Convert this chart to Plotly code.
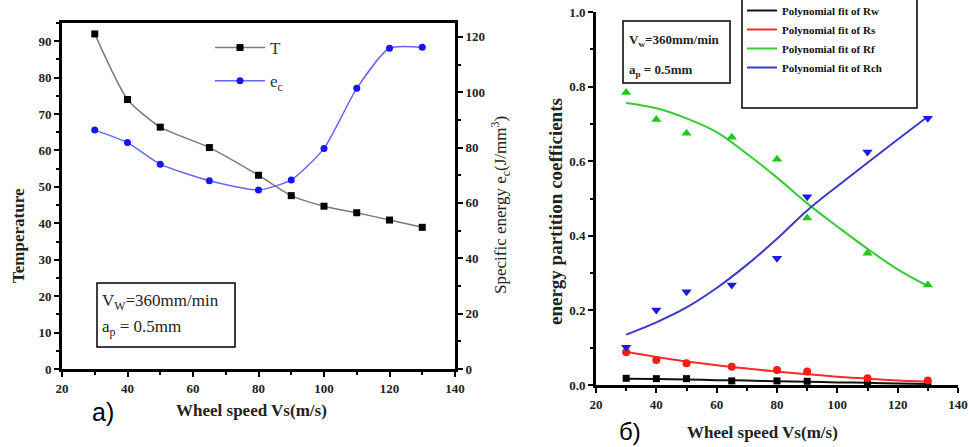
import plotly.graph_objects as go

W, H = 970, 447


def px(x):
    return x / W


def py(y):
    return 1 - y / H


# ---------------- data: panel a) ----------------
speed_a = [30, 40, 50, 65, 80, 90, 100, 110, 120, 130]
temperature = [92.0, 74.0, 66.4, 60.8, 53.2, 47.6, 44.7, 42.9, 40.9, 38.9]
specific_energy = [86.3, 81.8, 74.0, 68.0, 64.7, 68.3, 79.7, 101.4, 115.9, 116.2]

# ---------------- data: panel б) ----------------
speed_b = [30, 40, 50, 65, 80, 90, 110, 130]
rw = [0.018, 0.017, 0.017, 0.011, 0.011, 0.010, 0.005, 0.003]
rs = [0.088, 0.067, 0.058, 0.049, 0.040, 0.036, 0.018, 0.012]
rf = [0.784, 0.712, 0.675, 0.664, 0.605, 0.448, 0.353, 0.268]
rch = [0.101, 0.201, 0.250, 0.268, 0.340, 0.505, 0.625, 0.715]

fit_speed = [30, 40, 50, 60, 70, 80, 90, 100, 110, 120, 130]
rw_fit = [0.017, 0.016, 0.015, 0.013, 0.012, 0.010, 0.009, 0.007, 0.006, 0.004, 0.003]
rs_fit = [0.089, 0.075, 0.063, 0.053, 0.044, 0.036, 0.029, 0.022, 0.017, 0.012, 0.009]
rf_fit = [0.756, 0.742, 0.715, 0.678, 0.620, 0.556, 0.487, 0.425, 0.365, 0.310, 0.265]
rch_fit = [0.135, 0.168, 0.208, 0.260, 0.322, 0.392, 0.468, 0.533, 0.596, 0.658, 0.720]

x_ticks = [20, 40, 60, 80, 100, 120, 140]
temp_ticks = [0, 10, 20, 30, 40, 50, 60, 70, 80, 90]
energy_ticks = [0, 20, 40, 60, 80, 100, 120]
coef_ticks = [0.0, 0.2, 0.4, 0.6, 0.8, 1.0]
coef_labels = ["0.0", "0.2", "0.4", "0.6", "0.8", "1.0"]

SERIF = "Liberation Serif"
tickfont = dict(family=SERIF, size=13, color="#222", weight="bold")

fig = go.Figure()

# panel a
fig.add_trace(go.Scatter(
    x=speed_a, y=temperature, name="T", mode="lines+markers",
    xaxis="x", yaxis="y", legend="legend", legendgroup="T",
    line=dict(color="#7a7a7a", width=1.5, shape="spline", smoothing=0.6),
    marker=dict(symbol="square", size=7, color="black"),
))
fig.add_trace(go.Scatter(
    x=speed_a, y=specific_energy, name="e<sub>c</sub>", mode="lines+markers",
    xaxis="x", yaxis="y2", legend="legend", legendgroup="ec",
    line=dict(color="#6666ff", width=1.5, shape="spline", smoothing=0.6),
    marker=dict(symbol="circle", size=7, color="#1414ff"),
))

# panel б : fits
fits = [
    ("Polynomial fit of Rw", rw_fit, "#111111"),
    ("Polynomial fit of Rs", rs_fit, "#ff2a2a"),
    ("Polynomial fit of Rf", rf_fit, "#33cc33"),
    ("Polynomial fit of Rch", rch_fit, "#3a3acc"),
]
for name, vals, col in fits:
    fig.add_trace(go.Scatter(
        x=fit_speed, y=vals, name=name, mode="lines",
        xaxis="x2", yaxis="y3", legend="legend2",
        line=dict(color=col, width=2, shape="spline", smoothing=1.0),
    ))

points = [
    (rw, "square", "#000000", 7),
    (rs, "circle", "#ff1a1a", 8),
    (rf, "triangle-up", "#1fc81f", 9),
    (rch, "triangle-down", "#1a1ae0", 9),
]
for vals, sym, col, size in points:
    fig.add_trace(go.Scatter(
        x=speed_b, y=vals, mode="markers", showlegend=False,
        xaxis="x2", yaxis="y3",
        marker=dict(symbol=sym, size=size, color=col),
    ))

axis_common = dict(
    showline=True, linewidth=3, linecolor="black", showgrid=False,
    zeroline=False, ticks="outside", ticklen=5, tickwidth=2,
    tickcolor="black", tickfont=tickfont,
)

fig.update_layout(
    width=W, height=H,
    margin=dict(l=0, r=0, t=0, b=0, autoexpand=False),
    paper_bgcolor="white", plot_bgcolor="white",
    showlegend=True,
    xaxis=dict(domain=[px(62), px(455)], range=[20, 140], tickvals=x_ticks,
               anchor="y", mirror=True,
               minor=dict(dtick=10, ticks="outside", ticklen=3, tickcolor="black"),
               **axis_common),
    yaxis=dict(domain=[py(369), py(23)], range=[0, 95], tickvals=temp_ticks,
               anchor="x",
               minor=dict(dtick=5, ticks="outside", ticklen=3, tickcolor="black"),
               **axis_common),
    yaxis2=dict(range=[0, 125], tickvals=energy_ticks, overlaying="y",
                side="right", anchor="x",
                minor=dict(dtick=10, ticks="outside", ticklen=3, tickcolor="black"),
                **axis_common),
    xaxis2=dict(domain=[px(596), px(958)], range=[20, 140], tickvals=x_ticks,
                anchor="y3",
                minor=dict(dtick=10, ticks="outside", ticklen=3, tickcolor="black"),
                **axis_common),
    yaxis3=dict(domain=[py(385), py(12)], range=[0, 1.0], tickvals=coef_ticks,
                ticktext=coef_labels, anchor="x2",
                minor=dict(dtick=0.1, ticks="outside", ticklen=3, tickcolor="black"),
                **axis_common),
    legend=dict(x=px(210), y=py(30), xanchor="left", yanchor="top",
                bgcolor="rgba(0,0,0,0)", itemwidth=50, traceorder="grouped",
                tracegroupgap=8,
                font=dict(family=SERIF, size=17, color="#333")),
    legend2=dict(x=px(742), y=py(-4), xanchor="left", yanchor="top",
                 bgcolor="rgba(0,0,0,0)", itemwidth=30,
                 font=dict(family=SERIF, size=11, color="#111", weight="bold")),
)

shapes = [
    dict(type="rect", xref="paper", yref="paper", x0=px(97), x1=px(235),
         y0=py(347), y1=py(283), line=dict(color="black", width=1.5)),
    dict(type="rect", xref="paper", yref="paper", x0=px(623), x1=px(730),
         y0=py(83), y1=py(21), line=dict(color="black", width=1.5)),
    dict(type="rect", xref="paper", yref="paper", x0=px(742), x1=px(917),
         y0=py(108), y1=py(-6), line=dict(color="black", width=1.5)),
]
fig.update_layout(shapes=shapes)


def ann(text, x, y, size, angle=0, family=SERIF, weight="bold", xanchor="center",
        color="#222"):
    fig.add_annotation(text=text, x=px(x), y=py(y), xref="paper", yref="paper",
                       showarrow=False, textangle=angle, xanchor=xanchor,
                       yanchor="middle",
                       font=dict(family=family, size=size, color=color, weight=weight))


ann("Temperature", 18, 236, 17, angle=-90)
ann("Specific energy e<sub>c</sub>(J/mm<sup>3</sup>)", 500, 205, 17, angle=-90,
    weight="normal")
ann("energy partition coefficients", 555, 212, 19, angle=-90)
ann("Wheel speed Vs(m/s)", 251, 410, 17)
ann("Wheel speed Vs(m/s)", 762, 432, 17)
ann("a)", 103, 412, 25, family="Liberation Sans", weight="normal", color="black")
ann("б)", 630, 431, 24, family="Liberation Sans", weight="normal", color="black")
ann("V<sub>W</sub>=360mm/min", 100, 302, 17, weight="normal", xanchor="left")
ann("a<sub>p</sub> = 0.5mm", 100, 328, 17, weight="normal", xanchor="left")
ann("V<sub>w</sub>=360mm/min", 627, 40, 13, xanchor="left")
ann("a<sub>p</sub> = 0.5mm", 627, 71, 13, xanchor="left")

fig.write_html("out.html")
